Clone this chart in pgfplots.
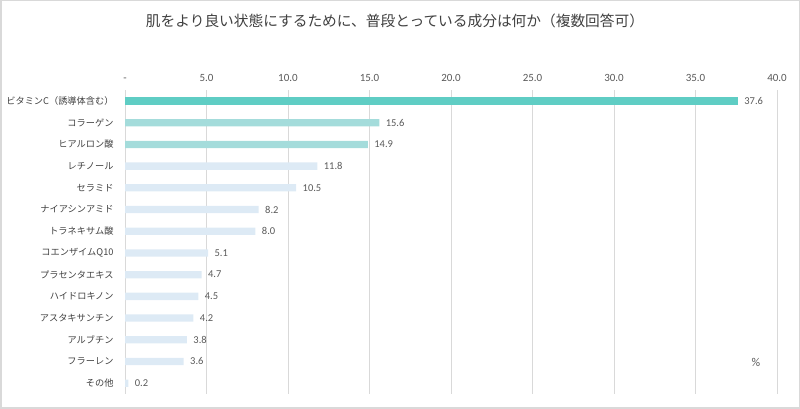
\documentclass[border=0pt]{standalone}
\usepackage{pgfplots}
\pgfplotsset{compat=1.18}
\usepackage{fontspec}
\setmainfont{Carlito}
\newfontfamily\jp{Noto Sans CJK JP}
\definecolor{cA}{HTML}{5FCDC4}
\definecolor{cB}{HTML}{A4DCDB}
\definecolor{cC}{HTML}{DDEAF5}
\definecolor{frame}{HTML}{D9D9D9}
\definecolor{gridc}{HTML}{D9D9D9}
\definecolor{txt}{HTML}{404040}
\definecolor{txtl}{HTML}{595959}
\begin{document}
\begin{tikzpicture}[x=1pt,y=1pt]
\path[use as bounding box] (0,0) rectangle (800,409);
\draw[color=frame, line width=1.5pt] (0.75,0.75) rectangle (799.25,408.25);
\node[font=\jp\fontsize{14.7}{18}\selectfont, text=txt] at (395,388) {肌をより良い状態にするために、普段とっている成分は何か（複数回答可）};
\begin{axis}[
  at={(125pt,15pt)}, anchor=south west,
  scale only axis, width=652pt, height=303.8pt,
  xmin=0, xmax=40, ymin=-0.5, ymax=13.5,
  y dir=reverse,
  xbar, bar width=7.3pt, bar shift=0pt,
  axis line style={draw=none},
  major tick length=0pt,
  xtick={0,5,...,40},
  xticklabels={-,5.0,10.0,15.0,20.0,25.0,30.0,35.0,40.0},
  xticklabel pos=upper,
  xticklabel style={font=\fontsize{11}{13}\selectfont, text=txtl, yshift=5pt},
  xmajorgrids, grid style={color=gridc, line width=0.8pt},
  ytick={0,...,13},
  yticklabels={ビタミンC（誘導体含む）,コラーゲン,ヒアルロン酸,レチノール,セラミド,ナイアシンアミド,トラネキサム酸,コエンザイムQ10,プラセンタエキス,ハイドロキノン,アスタキサンチン,アルブチン,フラーレン,その他},
  yticklabel style={font=\jp\fontsize{9.2}{11}\selectfont, text=txt, anchor=east, xshift=-8pt},
  /pgf/number format/assume math mode=true,
  nodes near coords={\pgfmathprintnumber[fixed,fixed zerofill,precision=1]{\pgfplotspointmeta}},
  nodes near coords style={anchor=west, xshift=3pt, font=\fontsize{10.5}{12}\selectfont, text=txtl},
  clip=false,
]
\addplot[fill=cA, draw=none] coordinates {(37.6,0)};
\addplot[fill=cB, draw=none] coordinates {(15.6,1) (14.9,2)};
\addplot[fill=cC, draw=none] coordinates {(11.8,3) (10.5,4) (8.2,5) (8.0,6) (5.1,7) (4.7,8) (4.5,9) (4.2,10) (3.8,11) (3.6,12) (0.2,13)};
\node[font=\fontsize{12}{14}\selectfont, text=txtl] at (axis cs:38.7,12.03) {\%};
\end{axis}
\end{tikzpicture}
\end{document}
